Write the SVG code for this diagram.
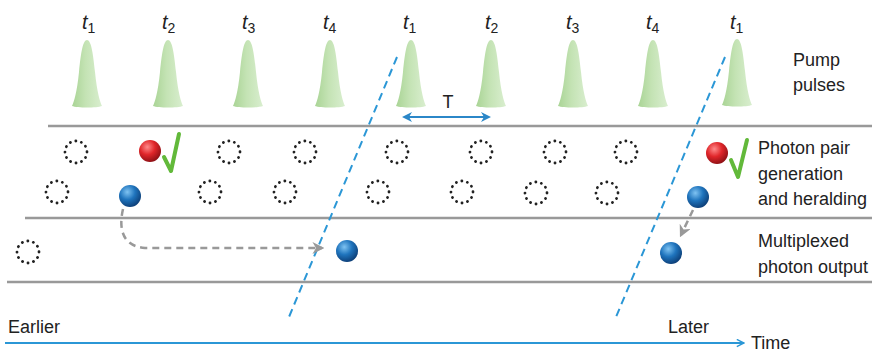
<svg xmlns="http://www.w3.org/2000/svg" width="872" height="354" viewBox="0 0 872 354">
<style>
.lbl{font-family:"Liberation Sans",Arial,sans-serif;font-size:18px;fill:#222}
.tl{font-family:"Liberation Sans",Arial,sans-serif;font-size:20px;font-style:italic;fill:#222}
.sub{font-size:14px;font-style:normal}
.rail{stroke:#999;stroke-width:2.5;fill:none}
.dot{fill:none;stroke:#222;stroke-width:2.8;stroke-linecap:round;stroke-dasharray:0.1 5.6}
.blued{stroke:#2b97d6;stroke-width:2;stroke-dasharray:8 5;fill:none}
.grayd{stroke:#999;stroke-width:2.5;stroke-dasharray:7 5;fill:none}
.check{stroke:#62b93a;stroke-width:4;fill:none;stroke-linecap:round;stroke-linejoin:round}
</style>
<defs>
<linearGradient id="gp" x1="0" y1="0" x2="1" y2="0">
<stop offset="0" stop-color="#a9d495"/>
<stop offset="0.45" stop-color="#c4e3b4"/>
<stop offset="1" stop-color="#d9eecf"/>
</linearGradient>
<radialGradient id="gr" cx="0.38" cy="0.32" r="0.7">
<stop offset="0" stop-color="#ff8a8a"/>
<stop offset="0.5" stop-color="#e0262a"/>
<stop offset="1" stop-color="#8e1015"/>
</radialGradient>
<radialGradient id="gb" cx="0.38" cy="0.32" r="0.7">
<stop offset="0" stop-color="#7fc3f2"/>
<stop offset="0.5" stop-color="#1f74bd"/>
<stop offset="1" stop-color="#0d3f78"/>
</radialGradient>
<path id="pulse" d="M-15 0 C-13 -4,-10 -14,-8 -34 C-6 -54,-4 -66,0 -66 C4 -66,6 -54,8 -34 C10 -14,13 -4,15 0 C10 2,-10 2,-15 0 Z" fill="url(#gp)"/>
<circle id="dc" r="11" class="dot"/>
<marker id="ah" viewBox="0 0 10 10" refX="8" refY="5" markerWidth="10" markerHeight="10" markerUnits="userSpaceOnUse" orient="auto-start-reverse">
<path d="M0 0 L10 5 L0 10 L3 5 Z" fill="#2b87c8"/>
</marker>
<marker id="ahg" viewBox="0 0 10 10" refX="8" refY="5" markerWidth="12" markerHeight="12" markerUnits="userSpaceOnUse" orient="auto">
<path d="M0 0 L10 5 L0 10 L3 5 Z" fill="#999"/>
</marker>
<marker id="aht" viewBox="0 0 10 10" refX="9" refY="5" markerWidth="9" markerHeight="9" markerUnits="userSpaceOnUse" orient="auto">
<path d="M1 1 L9 5 L1 9" fill="none" stroke="#2b97d6" stroke-width="1.6"/>
</marker>
</defs>

<g id="pulses">
<use href="#pulse" x="87" y="106"/>
<use href="#pulse" x="168" y="106"/>
<use href="#pulse" x="248" y="106"/>
<use href="#pulse" x="330" y="106"/>
<use href="#pulse" x="411" y="106"/>
<use href="#pulse" x="491" y="106"/>
<use href="#pulse" x="573" y="106"/>
<use href="#pulse" x="653" y="106"/>
<use href="#pulse" x="737" y="105"/>
</g>
<g id="pulse-labels">
<text class="tl" x="82" y="29">t<tspan class="sub" dy="4">1</tspan></text>
<text class="tl" x="162" y="29">t<tspan class="sub" dy="4">2</tspan></text>
<text class="tl" x="242" y="29">t<tspan class="sub" dy="4">3</tspan></text>
<text class="tl" x="323" y="29">t<tspan class="sub" dy="4">4</tspan></text>
<text class="tl" x="403" y="29">t<tspan class="sub" dy="4">1</tspan></text>
<text class="tl" x="485" y="29">t<tspan class="sub" dy="4">2</tspan></text>
<text class="tl" x="566" y="29">t<tspan class="sub" dy="4">3</tspan></text>
<text class="tl" x="646" y="29">t<tspan class="sub" dy="4">4</tspan></text>
<text class="tl" x="730" y="29">t<tspan class="sub" dy="4">1</tspan></text>
</g>

<g id="rails">
<line class="rail" x1="48" y1="126" x2="872" y2="126"/>
<line class="rail" x1="25" y1="218" x2="872" y2="218"/>
<line class="rail" x1="7" y1="282" x2="872" y2="282"/>
</g>

<g id="empty-modes">
<use href="#dc" x="76" y="152"/>
<use href="#dc" x="229" y="152"/>
<use href="#dc" x="305" y="152"/>
<use href="#dc" x="397" y="152"/>
<use href="#dc" x="481" y="152"/>
<use href="#dc" x="555" y="152"/>
<use href="#dc" x="626" y="152"/>
<use href="#dc" x="57" y="192"/>
<use href="#dc" x="210" y="192"/>
<use href="#dc" x="285" y="192"/>
<use href="#dc" x="378" y="192"/>
<use href="#dc" x="462" y="192"/>
<use href="#dc" x="536" y="193"/>
<use href="#dc" x="607" y="193"/>
<use href="#dc" x="28" y="252"/>
</g>

<g id="connectors">
<line class="blued" x1="397" y1="57" x2="289" y2="317"/>
<line class="blued" x1="725" y1="57" x2="616" y2="317"/>
<path class="grayd" d="M123 209 C120 222,118 246,145 248 L322 248" marker-end="url(#ahg)"/>
<line class="grayd" x1="693" y1="210" x2="681" y2="235" stroke-dasharray="5 4" marker-end="url(#ahg)"/>
<line x1="404" y1="117" x2="489" y2="117" stroke="#2b87c8" stroke-width="2.2" marker-start="url(#ah)" marker-end="url(#ah)"/>
<line x1="5" y1="343" x2="744" y2="343" stroke="#2b97d6" stroke-width="2" marker-end="url(#aht)"/>
</g>

<g id="photons">
<circle cx="150" cy="151" r="11" fill="url(#gr)"/>
<path class="check" d="M164 157 L171 171 L179 134"/>
<circle cx="130" cy="196" r="11" fill="url(#gb)"/>
<circle cx="347" cy="251" r="11" fill="url(#gb)"/>
<circle cx="717" cy="153" r="11" fill="url(#gr)"/>
<path class="check" d="M731 160 L738 177 L747 140"/>
<circle cx="698" cy="197" r="11" fill="url(#gb)"/>
<circle cx="671" cy="253" r="11" fill="url(#gb)"/>
</g>

<g id="labels">
<text class="lbl" x="448" y="108" text-anchor="middle">T</text>
<text class="lbl" x="793" y="66">Pump</text>
<text class="lbl" x="793" y="91">pulses</text>
<text class="lbl" x="758" y="154">Photon pair</text>
<text class="lbl" x="758" y="180">generation</text>
<text class="lbl" x="758" y="205">and heralding</text>
<text class="lbl" x="758" y="247">Multiplexed</text>
<text class="lbl" x="758" y="273">photon output</text>
<text class="lbl" x="8" y="333">Earlier</text>
<text class="lbl" x="668" y="333">Later</text>
<text class="lbl" x="751" y="349">Time</text>
</g>
</svg>
